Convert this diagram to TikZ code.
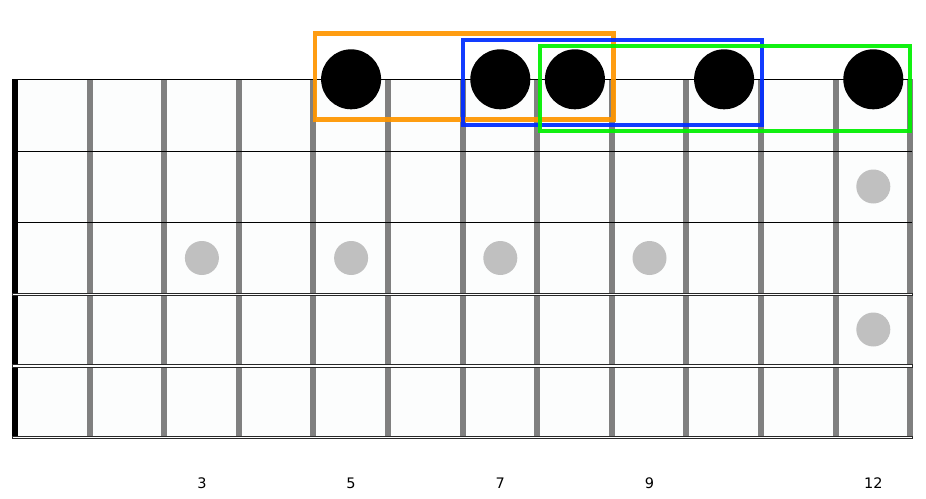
\documentclass[tikz,border=0pt]{standalone}
\usepackage{fontspec}
\setmainfont{DejaVu Sans}
\definecolor{fretgray}{RGB}{128,128,128}
\definecolor{inlaygray}{RGB}{192,192,192}
\definecolor{stringdark}{RGB}{40,40,40}
\definecolor{boardbg}{RGB}{252,253,253}
\definecolor{boxorange}{RGB}{255,150,0}
\definecolor{boxblue}{RGB}{0,45,255}
\definecolor{boxgreen}{RGB}{0,240,0}
\begin{document}
\begin{tikzpicture}[x=1pt,y=-1pt,
  fretline/.style={draw=fretgray, line width=6pt},
  plainstring/.style={draw=black, line width=1pt},
  wound/.style={draw=stringdark, fill=white, line width=0.8pt},
  note/.style={circle, fill=black, minimum size=60pt, inner sep=0pt},
  inlay/.style={circle, fill=inlaygray, minimum size=34pt, inner sep=0pt},
  fretnum/.style={font=\fontsize{14.5}{16}\selectfont, inner sep=0pt},
  shapebox/.style={line width=4.6pt, draw opacity=0.93}]
\useasboundingbox (0,0) rectangle (926,498);
% board
\fill[boardbg] (12,79.3) rectangle (912,437);
% frets
\foreach \i in {1,...,12}
  \draw[fretline] ({15+74.6*\i},79.3) -- ({15+74.6*\i},435.5);
% nut
\fill[black] (12,79.3) rectangle (18,435.5);
% inlays
\node[inlay] (i3) at (201.9,258) {};
\node[inlay] (i5) at (351.1,258) {};
\node[inlay] (i7) at (500.3,258) {};
\node[inlay] (i9) at (649.5,258) {};
\node[inlay] (i12a) at (873.3,186.5) {};
\node[inlay] (i12b) at (873.3,329.5) {};
% strings
\draw[plainstring] (12,79.3) -- (912,79.3);
\draw[plainstring] (12,151) -- (912,151);
\draw[plainstring] (12,222.3) -- (912,222.3);
\draw[wound] (12,293.1) rectangle (912,295.6);
\draw[wound] (12,364.6) rectangle (912,367.1);
\draw[wound] (12,436.1) rectangle (912,438.6);
% notes
\node[note] (n5) at (351.1,79.3) {};
\node[note] (n7) at (500.3,79.3) {};
\node[note] (n8) at (574.9,79.3) {};
\node[note] (n10) at (724.1,79.3) {};
\node[note] (n12) at (873.3,79.3) {};
% boxes
\draw[shapebox, draw=boxorange] (315,33.3) rectangle (613.5,119.5);
\draw[shapebox, draw=boxblue] (463,40) rectangle (762,125);
\draw[shapebox, draw=boxgreen] (540,46) rectangle (910,131);
% fret numbers
\node[fretnum] (l3) at (201.9,483) {3};
\node[fretnum] (l5) at (351.1,483) {5};
\node[fretnum] (l7) at (500.3,483) {7};
\node[fretnum] (l9) at (649.5,483) {9};
\node[fretnum] (l12) at (873.3,483) {12};
\end{tikzpicture}
\end{document}
